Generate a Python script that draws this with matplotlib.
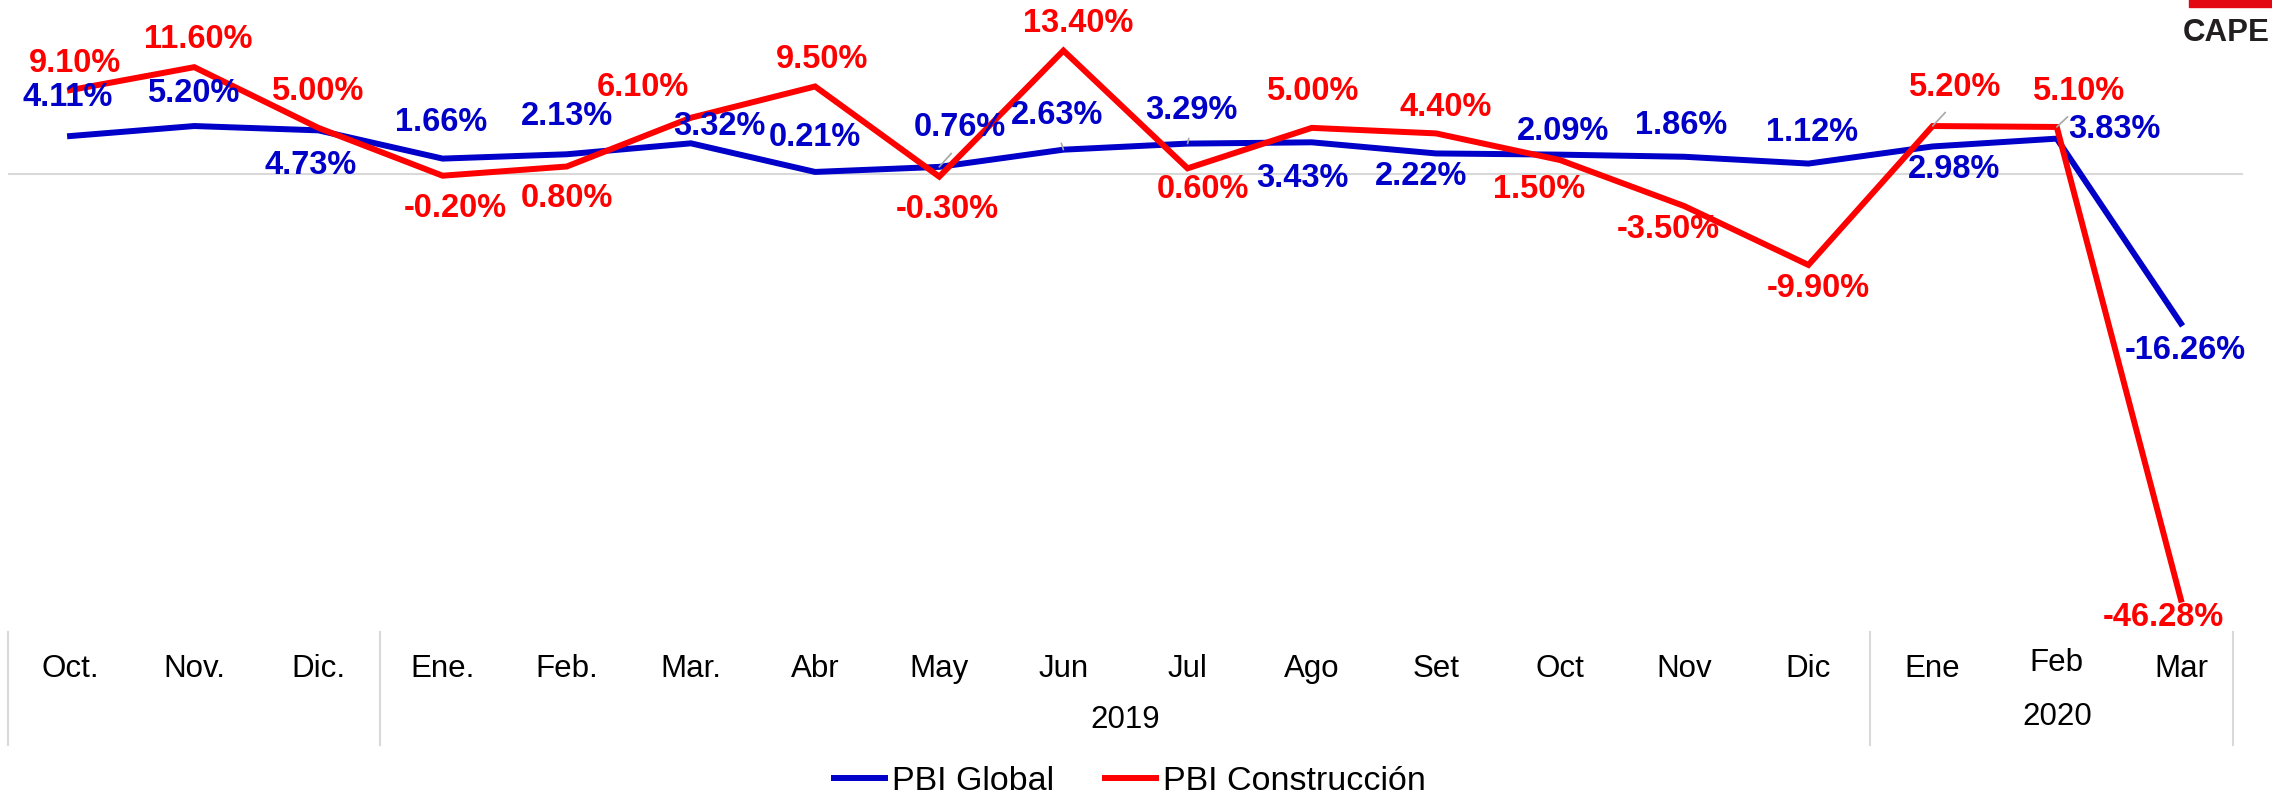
import matplotlib.pyplot as plt
from matplotlib.patches import Rectangle

plt.rcParams['font.family'] = ['Liberation Sans', 'DejaVu Sans']

# datos
meses = ['Oct.', 'Nov.', 'Dic.', 'Ene.', 'Feb.', 'Mar.', 'Abr', 'May', 'Jun', 'Jul',
         'Ago', 'Set', 'Oct', 'Nov', 'Dic', 'Ene', 'Feb', 'Mar']
anios = ['2019', '2020']
pbi_global = [4.11, 5.20, 4.73, 1.66, 2.13, 3.32, 0.21, 0.76, 2.63, 3.29,
              3.43, 2.22, 2.09, 1.86, 1.12, 2.98, 3.83, -16.26]
pbi_constr = [9.10, 11.60, 5.00, -0.20, 0.80, 6.10, 9.50, -0.30, 13.40, 0.60,
              5.00, 4.40, 1.50, -3.50, -9.90, 5.20, 5.10, -46.28]

# posicion de etiquetas (offset en pixeles)
off_global = [(-2, 39), (-1, 33), (-8, -35), (-1, 36), (0, 38), (28, 17), (0, 34),
              (21, 39), (-6, 34), (4, 33), (-9, -36), (-15, -23), (3, 23), (-3, 31),
              (4, 31), (21, -23), (58, 9), (4, -27)]
off_constr = [(5, 27), (4, 28), (-1, 36), (13, -33), (0, -32), (-48, 30), (7, 27),
              (8, -33), (15, 27), (15, -21), (0, 36), (10, 26), (-21, -29), (-16, -23),
              (10, -24), (22, 39), (21, 35), (-18, -18)]
guia_global = [7, 8, 9]
guia_constr = [15, 16]

azul = '#0000C8'
rojo = '#FF0000'
gris = '#A6A6A6'

W, H = 2272, 797
fig = plt.figure(figsize=(W / 100, H / 100), dpi=100)
ax = fig.add_axes([8 / W, (H - 632) / H, (2243 - 8) / W, 632 / H])

x = list(range(len(meses)))
ax.plot(x, pbi_global, color=azul, lw=4.3, label='PBI Global', solid_joinstyle='miter')
ax.plot(x, pbi_constr, color=rojo, lw=4.3, label='PBI Construcción', solid_joinstyle='miter')
ax.axhline(0, color='#D9D9D9', lw=1.5, zorder=0)

ax.set_xlim(-0.5, 17.5)
ax.set_ylim(-49.8, 18.9)
ax.set_xticks([])
ax.set_yticks([])
for s in ax.spines.values():
    s.set_visible(False)


def etiquetas(vals, offs, guias, color):
    for i, v in enumerate(vals):
        kw = {}
        if i in guias:
            kw['arrowprops'] = dict(arrowstyle='-', color=gris, lw=1.2,
                                    shrinkA=7, shrinkB=0, relpos=(0.5, 0))
        ax.annotate(f'{v:.2f}%', (i, v), xytext=offs[i], textcoords='offset pixels',
                    ha='center', va='center', color=color, fontsize=23.5,
                    fontweight='bold', **kw)


etiquetas(pbi_global, off_global, guia_global, azul)
etiquetas(pbi_constr, off_constr, guia_constr, rojo)

# eje de categorias
tr = ax.get_xaxis_transform()
y_mes = (632 - 669) / 632
y_anio = (632 - 720) / 632
y_sep = (632 - 745) / 632
for i, m in enumerate(meses):
    dy = 0.01 if i == 16 else 0
    ax.text(i, y_mes + dy, m, transform=tr, ha='center', va='center', fontsize=22.5)
ax.text(8.5, y_anio, anios[0], transform=tr, ha='center', va='center', fontsize=22.5)
ax.text(16, y_anio + 0.005, anios[1], transform=tr, ha='center', va='center', fontsize=22.5)
for xs in [-0.5, 2.5, 14.5, 17.42]:
    ax.plot([xs, xs], [0, y_sep], transform=tr, color='#D9D9D9', lw=1.5, clip_on=False)

fig.legend(loc='center', bbox_to_anchor=(1130 / W, 0.019), ncol=2, frameon=False,
           fontsize=24.5, handlelength=1.5, handletextpad=0.2, columnspacing=1.5)

# logo
fig.patches.append(Rectangle((2189 / W, 1 - 7 / H), 90 / W, 12 / H, transform=fig.transFigure,
                             color='#E30613', zorder=5))
fig.text(2183 / W, 1 - 33 / H, 'CAPE', fontsize=22.5, fontweight='bold', color='#231F20',
         ha='left', va='center')

fig.savefig('out.png', dpi=100)
